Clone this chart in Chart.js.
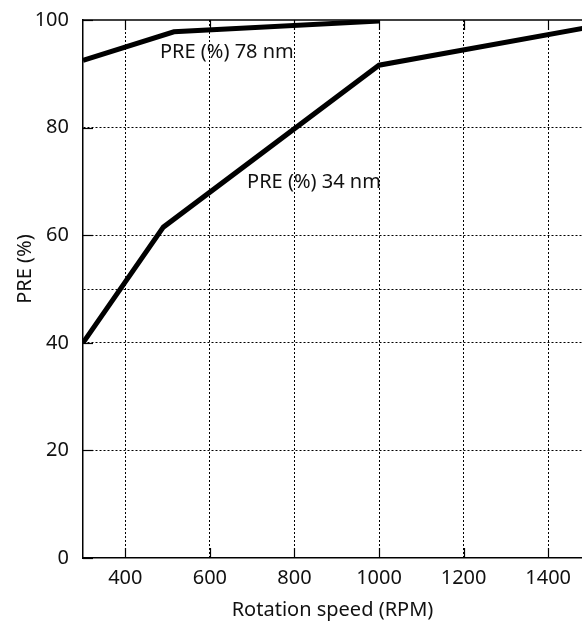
<!DOCTYPE html>
<html>
<head>
<meta charset="utf-8">
<script src="https://cdn.jsdelivr.net/npm/chart.js@4"></script>
<style>
  html, body { margin: 0; padding: 0; background: #fff; overflow: hidden; }
  #wrap { width: 582px; height: 624px; }
</style>
</head>
<body>
<div id="wrap"><canvas id="chart"></canvas></div>
<script>
// axis ranges and ticks
const xMin = 300
const xMax = 1480
const xTicks = [400, 600, 800, 1000, 1200, 1400]
const yTicks = [0, 20, 40, 60, 80, 100]
const yExtraGrid = [50]

// series
const speed78 = [300, 515, 1000]
const pre78 = [92.5, 97.8, 99.8]
const speed34 = [300, 490, 1000, 1500]
const pre34 = [40, 61.5, 91.6, 98.7]

// in-plot labels
const labelX = [482, 688]
const labelY = [94, 69.8]
const labelText = ['PRE (%) 78 nm', 'PRE (%) 34 nm']
const yTitle = 'PRE (%)'

const FONT = '"Noto Sans", "Open Sans", sans-serif'
const FSIZE = 20

function toPoints(xs, ys) {
    return xs.map((x, i) => ({ x: x, y: ys[i] }))
}

// draws frame, inward ticks, y title and the series labels
const framePlugin = {
    id: 'frame',
    afterDraw(chart) {
        const ctx = chart.ctx
        const a = chart.chartArea
        const xs = chart.scales.x
        const ys = chart.scales.y
        ctx.save()
        ctx.strokeStyle = '#000'
        ctx.lineWidth = 1.5
        ctx.setLineDash([])
        // top border
        ctx.beginPath()
        ctx.moveTo(a.left, a.top)
        ctx.lineTo(a.right, a.top)
        ctx.stroke()
        // inward tick marks
        ctx.lineWidth = 1.2
        xTicks.forEach(v => {
            const px = Math.round(xs.getPixelForValue(v)) + 0.5
            ctx.beginPath()
            ctx.moveTo(px, a.bottom)
            ctx.lineTo(px, a.bottom - 10)
            ctx.moveTo(px, a.top)
            ctx.lineTo(px, a.top + 10)
            ctx.stroke()
        })
        yTicks.forEach(v => {
            const py = Math.round(ys.getPixelForValue(v)) + 0.5
            ctx.beginPath()
            ctx.moveTo(a.left, py)
            ctx.lineTo(a.left + 10, py)
            ctx.stroke()
        })
        // series labels
        ctx.fillStyle = '#111'
        ctx.font = FSIZE + 'px ' + FONT
        ctx.textAlign = 'left'
        ctx.textBaseline = 'middle'
        labelText.forEach((t, i) => {
            ctx.fillText(t, xs.getPixelForValue(labelX[i]), ys.getPixelForValue(labelY[i]))
        })
        // y axis title, sits a bit above the middle like the original
        ctx.translate(25, (a.top + a.bottom) / 2 - 20)
        ctx.rotate(-Math.PI / 2)
        ctx.textAlign = 'center'
        ctx.fillText(yTitle, 0, 0)
        ctx.restore()
    }
}

document.addEventListener('DOMContentLoaded', function() {
    const ctx = document.getElementById('chart').getContext('2d')
    const gridTicksY = yTicks.concat(yExtraGrid).sort((a, b) => a - b)

    new Chart(ctx, {
        type: 'line',
        data: {
            datasets: [
                {
                    label: 'PRE (%) 78 nm',
                    data: toPoints(speed78, pre78),
                    borderColor: '#000',
                    borderWidth: 5,
                    pointRadius: 0,
                    tension: 0,
                    fill: false
                },
                {
                    label: 'PRE (%) 34 nm',
                    data: toPoints(speed34, pre34),
                    borderColor: '#000',
                    borderWidth: 5,
                    pointRadius: 0,
                    tension: 0,
                    fill: false
                }
            ]
        },
        options: {
            responsive: true,
            maintainAspectRatio: false,
            animation: false,
            layout: { padding: { top: 20, right: 0, left: 0, bottom: 2 } },
            plugins: {
                legend: { display: false },
                tooltip: { enabled: false }
            },
            scales: {
                x: {
                    type: 'linear',
                    min: xMin,
                    max: xMax,
                    afterBuildTicks: scale => {
                        scale.ticks = xTicks.map(v => ({ value: v }))
                    },
                    grid: {
                        color: '#000',
                        lineWidth: 1,
                        drawTicks: false
                    },
                    border: { display: true, color: '#000', width: 1.5, dash: [2, 2] },
                    ticks: {
                        color: '#111',
                        padding: 8,
                        maxRotation: 0,
                        font: { family: FONT, size: FSIZE },
                        callback: v => String(v)
                    },
                    title: {
                        display: true,
                        text: 'Rotation speed (RPM)',
                        color: '#111',
                        padding: { top: 0, bottom: 0 },
                        font: { family: FONT, size: FSIZE }
                    }
                },
                y: {
                    type: 'linear',
                    min: 0,
                    max: 100,
                    afterBuildTicks: scale => {
                        scale.ticks = gridTicksY.map(v => ({ value: v }))
                    },
                    afterFit: scale => {
                        scale.width = 83
                        scale.paddingTop = 0
                        scale.paddingBottom = 0
                    },
                    grid: {
                        color: c => (c.tick && (c.tick.value === 0 || c.tick.value === 100)) ? 'rgba(0,0,0,0)' : '#000',
                        lineWidth: 1,
                        drawTicks: false
                    },
                    border: { display: true, color: '#000', width: 1.5, dash: [2, 2] },
                    ticks: {
                        color: '#111',
                        padding: 14,
                        font: { family: FONT, size: FSIZE },
                        callback: v => yTicks.includes(v) ? String(v) : ''
                    },
                    title: { display: false }
                }
            }
        },
        plugins: [framePlugin]
    })
})
</script>
</body>
</html>
